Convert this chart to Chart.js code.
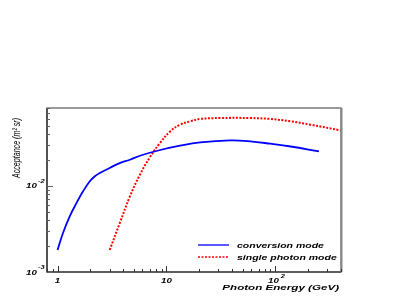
<!DOCTYPE html>
<html>
<head>
<meta charset="utf-8">
<script src="https://cdn.jsdelivr.net/npm/chart.js@4/dist/chart.umd.min.js"></script>
<style>
  html, body { margin: 0; padding: 0; background: #fff; }
  #wrap { width: 409px; height: 305px; position: relative; }
</style>
</head>
<body>
<div id="wrap"><canvas id="myChart" width="409" height="305"></canvas></div>
<script>
// conversion mode
const convEnergy = [1, 1.12, 1.29, 1.49, 1.71, 1.97, 2.2, 2.44, 3.01, 3.72, 4.61, 5.70, 8.41, 13.3, 20.4, 38.5, 58.7, 89.9, 138, 251];
const convAcc = [0.0018, 0.00282, 0.0044, 0.00629, 0.00859, 0.01122, 0.0129, 0.0141, 0.0161, 0.01837, 0.02006, 0.02233, 0.0257, 0.0292, 0.0319, 0.0336, 0.0328, 0.0308, 0.0286, 0.0251];
// single photon mode
const singleEnergy = [3.01, 3.72, 4.61, 5.70, 7.05, 8.71, 10.8, 13.3, 16.5, 20.4, 31.0, 58.7, 89.9, 138, 210, 398];
const singleAcc = [0.0018, 0.00368, 0.00752, 0.01343, 0.0215, 0.0314, 0.0428, 0.0512, 0.056, 0.0597, 0.0612, 0.0612, 0.0597, 0.056, 0.0512, 0.044];

const xMajor = [1, 10, 100];
const xMajorLabels = [['1', ''], ['10', ''], ['10', '2']];
const yMajor = [0.001, 0.01];
const yMajorLabels = [['10', '-3'], ['10', '-2']];

const legendNames = ['conversion mode', 'single photon mode'];

function pts(xs, ys) {
    return xs.map(function (x, i) { return { x: x, y: ys[i] }; });
}

function minorTicks(min, max) {
    let out = [];
    for (let d = Math.pow(10, Math.floor(Math.log10(min))); d <= max; d *= 10) {
        for (let k = 1; k < 10; k++) {
            let v = k * d;
            if (v >= min * 0.999 && v <= max * 1.001) out.push({ v: v, major: k === 1 });
        }
    }
    return out;
}

// the reference text looks stretched sideways, so draw it with a horizontal scale
function wideText(ctx, text, x, y, font, sx) {
    ctx.save();
    ctx.font = font;
    ctx.translate(x, y);
    ctx.scale(sx, 1);
    ctx.textAlign = 'left';
    ctx.fillText(text, 0, 0);
    ctx.restore();
    ctx.font = font;
    return ctx.measureText(text).width * sx;
}

const frame = {
    id: 'frame',
    afterDraw(chart) {
        const ctx = chart.ctx;
        const a = chart.chartArea;
        const xs = chart.scales.x, ys = chart.scales.y;
        const SX = 1.5;
        ctx.save();
        // box
        ctx.strokeStyle = '#666';
        ctx.lineWidth = 1.3;
        ctx.strokeRect(a.left, a.top, a.right - a.left, a.bottom - a.top);
        ctx.strokeStyle = '#222';
        ctx.lineWidth = 1.2;
        ctx.beginPath();
        ctx.moveTo(a.left, a.top);
        ctx.lineTo(a.left, a.bottom);
        ctx.lineTo(a.right, a.bottom);
        ctx.stroke();
        ctx.strokeStyle = '#888';
        ctx.lineWidth = 2;
        ctx.beginPath();
        ctx.moveTo(a.right + 0.5, a.top);
        ctx.lineTo(a.right + 0.5, a.bottom);
        ctx.stroke();
        // ticks
        ctx.strokeStyle = '#333';
        ctx.lineWidth = 1;
        minorTicks(xs.min, xs.max).forEach(function (t) {
            let px = Math.round(xs.getPixelForValue(t.v)) + 0.5;
            let len = t.major ? 6 : 3;
            ctx.beginPath();
            ctx.moveTo(px, a.bottom);
            ctx.lineTo(px, a.bottom - len);
            ctx.stroke();
        });
        ctx.strokeStyle = '#666';
        minorTicks(ys.min, ys.max).forEach(function (t) {
            let py = Math.round(ys.getPixelForValue(t.v)) + 0.5;
            let len = t.major ? 6 : 3;
            ctx.beginPath();
            ctx.moveTo(a.left, py);
            ctx.lineTo(a.left + len, py);
            ctx.stroke();
        });
        // tick labels
        ctx.fillStyle = '#000';
        ctx.textBaseline = 'alphabetic';
        const tickFont = 'italic bold 6.5px "Liberation Sans"';
        const supFont = 'italic bold 5px "Liberation Sans"';
        xMajor.forEach(function (v, i) {
            let px = xs.getPixelForValue(v);
            let lab = xMajorLabels[i];
            ctx.font = tickFont;
            let w = ctx.measureText(lab[0]).width * SX;
            let x0 = lab[1] ? px - w / 2 - 2 : px - w / 2;
            wideText(ctx, lab[0], x0, a.bottom + 11, tickFont, SX);
            if (lab[1]) wideText(ctx, lab[1], x0 + w + 2, a.bottom + 6, supFont, SX);
        });
        yMajor.forEach(function (v, i) {
            let py = ys.getPixelForValue(v);
            let lab = yMajorLabels[i];
            wideText(ctx, lab[0], 26, py + 2.5, tickFont, SX);
            wideText(ctx, lab[1], 38, py - 3, supFont, SX);
        });
        // axis titles
        const titleFont = 'italic bold 8px "Liberation Sans"';
        ctx.font = titleFont;
        let tw = ctx.measureText('Photon Energy (GeV)').width * 1.45;
        wideText(ctx, 'Photon Energy (GeV)', a.right - 2 - tw, a.bottom + 18, titleFont, 1.45);
        ctx.save();
        ctx.translate(19.5, a.top + 10);
        ctx.rotate(-Math.PI / 2);
        ctx.font = 'italic 11px "Liberation Sans"';
        let yt = 'Acceptance (m² sr)';
        let yw = ctx.measureText(yt).width;
        ctx.scale(60 / yw, 1);
        ctx.textAlign = 'right';
        ctx.fillText(yt, 0, 0);
        ctx.restore();
        // legend
        const ds = chart.data.datasets;
        const lx = 198, ly = [245, 257];
        const legFont = 'italic bold 7px "Liberation Sans"';
        ds.forEach(function (d, i) {
            ctx.strokeStyle = d.borderColor;
            ctx.lineWidth = 1.3;
            ctx.setLineDash(d.borderDash || []);
            ctx.beginPath();
            ctx.moveTo(lx, ly[i]);
            ctx.lineTo(lx + 31, ly[i]);
            ctx.stroke();
            ctx.setLineDash([]);
            ctx.fillStyle = '#000';
            wideText(ctx, d.label, lx + 39, ly[i] + 2.5, legFont, 1.5);
        });
        ctx.restore();
    }
};

const config = {
    type: 'scatter',
    data: {
        datasets: [{
            label: legendNames[0],
            data: pts(convEnergy, convAcc),
            showLine: true,
            borderColor: '#0000ff',
            borderWidth: 1.8,
            pointRadius: 0,
            tension: 0.4
        }, {
            label: legendNames[1],
            data: pts(singleEnergy, singleAcc),
            showLine: true,
            borderColor: '#ff0000',
            borderWidth: 2,
            borderDash: [2, 1.5],
            pointRadius: 0,
            tension: 0.4
        }]
    },
    options: {
        responsive: false,
        animation: false,
        layout: { padding: { top: 108, right: 68, left: 0, bottom: 0 } },
        plugins: { legend: { display: false }, tooltip: { enabled: false } },
        scales: {
            x: {
                type: 'logarithmic',
                min: 0.8,
                max: 400,
                grid: { display: false },
                border: { display: false },
                ticks: { display: false },
                afterFit: function (s) { s.height = 33; }
            },
            y: {
                type: 'logarithmic',
                min: 0.001,
                max: 0.08,
                grid: { display: false },
                border: { display: false },
                ticks: { display: false },
                afterFit: function (s) { s.width = 47; }
            }
        }
    },
    plugins: [frame]
};

const myChart = new Chart(document.getElementById('myChart'), config);
</script>
</body>
</html>
